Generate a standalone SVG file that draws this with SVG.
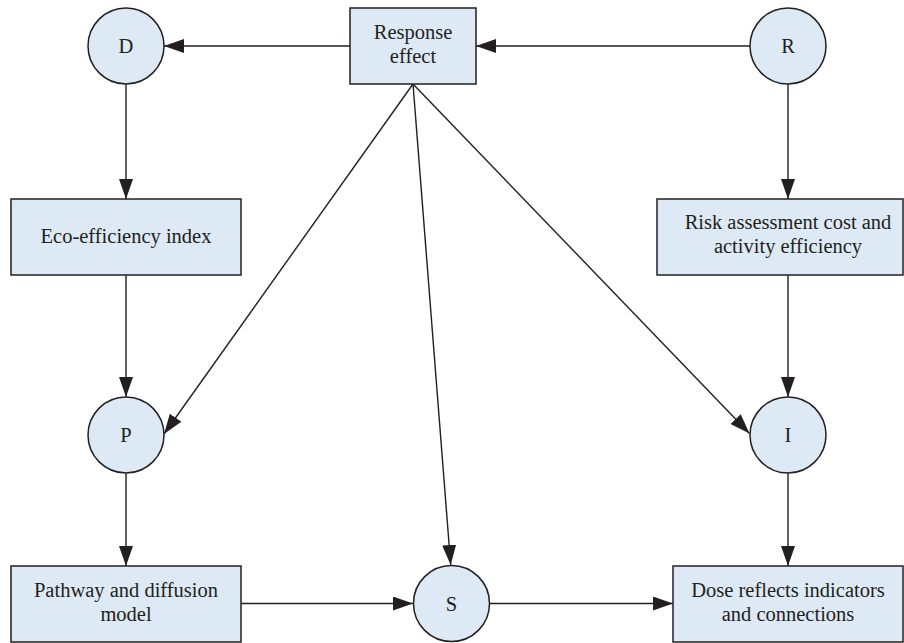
<svg xmlns="http://www.w3.org/2000/svg" width="904" height="643" viewBox="0 0 904 643">
<style>
.n{fill:#dde9f4;stroke:#231f20;stroke-width:1.5}
.t{font-family:"Liberation Serif","Times New Roman",serif;font-size:20.5px;fill:#231f20;text-anchor:middle}
.c{stroke:#231f20;stroke-width:1.4;fill:none;marker-end:url(#ah)}
</style>
<defs>
<marker id="ah" markerUnits="userSpaceOnUse" markerWidth="20" markerHeight="14" refX="20" refY="7" orient="auto">
<path d="M0,0 L20,7 L0,14 z" fill="#231f20"/>
</marker>
</defs>
<rect width="904" height="643" fill="#ffffff"/>
<g id="connectors">
<line class="c" x1="350" y1="46" x2="164" y2="46"/>
<line class="c" x1="750" y1="46" x2="476" y2="46"/>
<line class="c" x1="126" y1="84" x2="126" y2="199"/>
<line class="c" x1="126" y1="275" x2="126" y2="397"/>
<line class="c" x1="126" y1="473" x2="126" y2="566"/>
<line class="c" x1="788" y1="84" x2="788" y2="199"/>
<line class="c" x1="788" y1="275" x2="788" y2="397"/>
<line class="c" x1="788" y1="473" x2="788" y2="566"/>
<line class="c" x1="241" y1="603.5" x2="413" y2="603.5"/>
<line class="c" x1="489.5" y1="603.5" x2="673" y2="603.5"/>
<line class="c" x1="413" y1="84" x2="164" y2="434"/>
<line class="c" x1="413" y1="84" x2="450.7" y2="565"/>
<line class="c" x1="413" y1="84" x2="749.5" y2="433.5"/>
</g>
<g id="node-D"><circle class="n" cx="126" cy="46" r="38"/><text class="t" x="126" y="53">D</text></g>
<g id="node-R"><circle class="n" cx="788" cy="46" r="38"/><text class="t" x="788" y="53">R</text></g>
<g id="node-P"><circle class="n" cx="126" cy="435" r="38"/><text class="t" x="126" y="442">P</text></g>
<g id="node-I"><circle class="n" cx="788" cy="435" r="38"/><text class="t" x="788" y="442">I</text></g>
<g id="node-S"><circle class="n" cx="451.5" cy="603.5" r="38"/><text class="t" x="451.5" y="610.5">S</text></g>
<g id="node-response"><rect class="n" x="350" y="8" width="126" height="76"/><text class="t" x="413" y="39">Response</text><text class="t" x="413" y="63">effect</text></g>
<g id="node-eco"><rect class="n" x="11" y="199" width="230" height="76"/><text class="t" x="126" y="243">Eco-efficiency index</text></g>
<g id="node-risk"><rect class="n" x="657" y="199" width="246" height="76"/><text class="t" x="788" y="229">Risk assessment cost and</text><text class="t" x="788" y="253">activity efficiency</text></g>
<g id="node-pathway"><rect class="n" x="11" y="566" width="230" height="76"/><text class="t" x="126" y="597">Pathway and diffusion</text><text class="t" x="126" y="621">model</text></g>
<g id="node-dose"><rect class="n" x="673" y="566" width="230" height="76"/><text class="t" x="788" y="597">Dose reflects indicators</text><text class="t" x="788" y="621">and connections</text></g>
</svg>
